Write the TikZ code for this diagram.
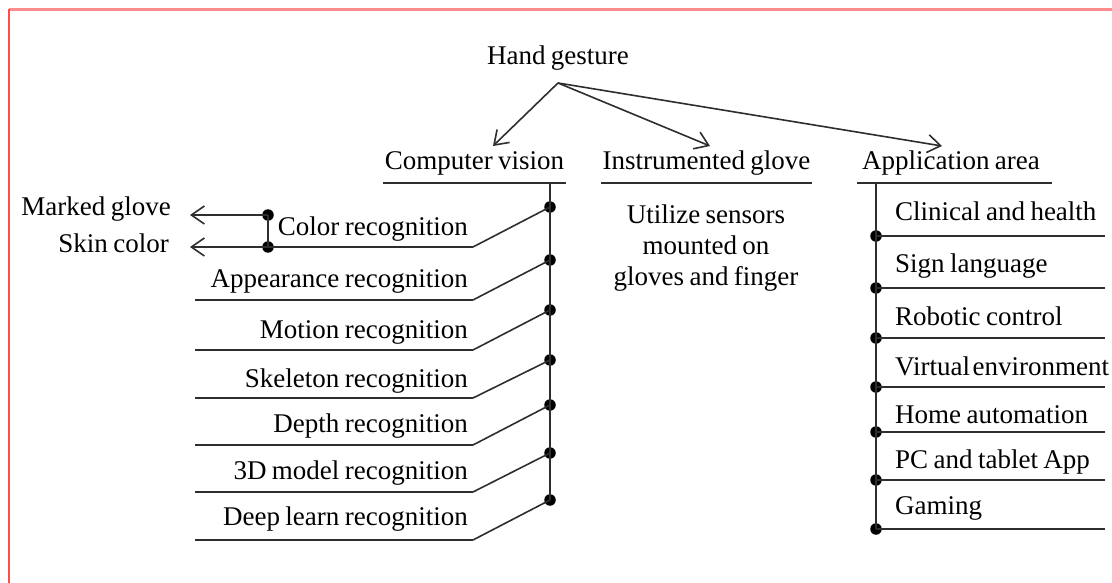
\documentclass[tikz,border=0pt]{standalone}
\usepackage{fontspec}
\setmainfont{Liberation Serif}
\usetikzlibrary{arrows.meta}
\newcommand\diagfont{\fontsize{27}{31}\selectfont\spaceskip=5.4pt plus 2.7pt minus 1.3pt\relax}
\begin{document}
\begin{tikzpicture}[x=1pt,y=-1pt,
  font=\diagfont,
  ln/.style={line width=1.6pt, draw=black!82},
  arr/.style={ln, -{Straight Barb[length=13pt,width=18pt,line width=1.6pt]}},
  dot/.style={circle, fill=black, inner sep=0pt, minimum size=11.5pt},
  lbl/.style={inner sep=0pt, text=black, yshift=-2.5pt}]
\useasboundingbox (0,0) rectangle (1112,583);
% frame
\draw[red!45, line width=3pt] (9,10) -- (1112,10);
\draw[red!70, line width=2pt] (9,583) -- (9,9);

% root
\node[lbl] (hg) at (558,56) {Hand gesture};
\coordinate (o) at (558,83);

% headers
\node[lbl] (cv) at (474.5,161) {Computer vision};
\node[lbl] (ig) at (706.5,161) {Instrumented glove};
\node[lbl] (aa) at (951,161) {Application area};
\coordinate (cvtip) at (493,146);
\coordinate (igtip) at (710,146);
\coordinate (aatip) at (942,146);
\draw[arr] (o) -- (cvtip);
\draw[arr] (o) -- (igtip);
\draw[arr] (o) -- (aatip);

% underlines
\coordinate (cvu1) at (383,183); \coordinate (cvu2) at (566,183);
\coordinate (igu1) at (601,183); \coordinate (igu2) at (812,183);
\coordinate (aau1) at (857,183); \coordinate (aau2) at (1052,183);
\draw[ln] (cvu1) -- (cvu2);
\draw[ln] (igu1) -- (igu2);
\draw[ln] (aau1) -- (aau2);

% instrumented glove description
\node[lbl, align=center] (igd) at (706,246) {Utilize sensors\\mounted on\\gloves and finger};

% computer vision column
\coordinate (cvtop) at (550,183);
\foreach \i/\yd/\yl/\ty/\txt in {1/207/247/227/Color recognition,
    2/260/300/279/Appearance recognition,
    3/310/350/330/Motion recognition,
    4/360/398/379/Skeleton recognition,
    5/405/445/424/Depth recognition,
    6/453/492/471/3D model recognition,
    7/500/540/517/Deep learn recognition}{
  \node[dot] (cvd\i) at (550,\yd) {};
  \coordinate (cvk\i) at (473,\yl);
  \coordinate (cve\i) at (195,\yl);
  \node[lbl, anchor=east] (cvt\i) at (468,\ty) {\txt};
  \draw[ln] (cvd\i.center) -- (cvk\i);
}
\draw[ln] (cvtop) -- (cvd7.center);
\foreach \i in {2,...,7}{\draw[ln] (cvk\i) -- (cve\i);}

% color recognition sub-branches
\node[dot] (cm) at (268,215) {};
\node[dot] (cs) at (268,247) {};
\draw[ln] (cvk1) -- (cs.center);
\draw[ln] (cm.center) -- (cs.center);
\coordinate (mtip) at (190,215);
\coordinate (stip) at (190,247);
\draw[arr] (cm.center) -- (mtip);
\draw[arr] (cs.center) -- (stip);
\node[lbl, anchor=east] (mg) at (171,207) {Marked glove};
\node[lbl, anchor=east] (sc) at (169,241) {Skin color};

% application column
\coordinate (aatop) at (876,183);
\foreach \i/\yd/\ty/\txt in {1/236/209/Clinical and health,
    2/288/264/Sign language,
    3/338/314/Robotic control,
    4/387/364/Virtual\hspace{2.5pt}environment,
    5/432/412/Home automation,
    6/480/460/PC and tablet App,
    7/529/506/Gaming}{
  \node[dot] (aad\i) at (876,\yd) {};
  \coordinate (aae\i) at (1105,\yd);
  \node[lbl, anchor=west] (aat\i) at (895,\ty) {\txt};
  \draw[ln] (aad\i.center) -- (aae\i);
}
\draw[ln] (aatop) -- (aad7.center);
\end{tikzpicture}
\end{document}
